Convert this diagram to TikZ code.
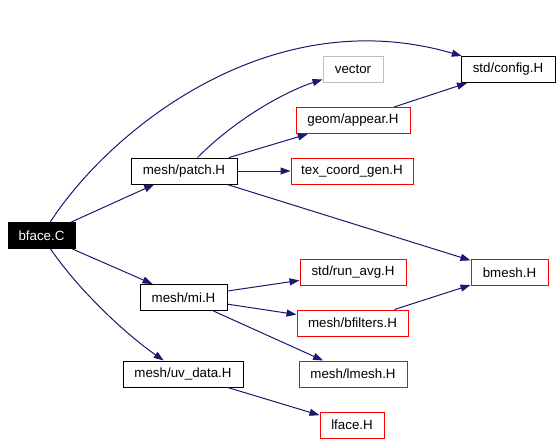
\documentclass[tikz,border=0pt]{standalone}
\usepackage{fontspec}
\setmainfont{Liberation Sans}
\usetikzlibrary{arrows.meta}

\definecolor{edgeblue}{HTML}{191970}

\begin{document}
\begin{tikzpicture}[
    x=0.75pt, y=-0.75pt,
    every node/.style={font=\fontsize{10}{12}\selectfont, align=center, inner sep=0pt},
    file/.style={rectangle, draw=black, line width=0.75pt, minimum height=19.5pt},
    missing/.style={file, draw=red},
    external/.style={file, draw=black!25},
    root/.style={file, fill=black, text=white},
    arrow/.style={-{Triangle[length=7.5pt, width=5.25pt]}, line width=0.75pt, edgeblue}
]
    \useasboundingbox (0,0) rectangle (560,443);

    % Source file
    \node[root, minimum width=50.25pt] (bface) at (41.5,235.5) {bface.C};

    % First level includes
    \node[file, minimum width=79.5pt] (patch) at (184,171) {mesh/patch.H};
    \node[file, minimum width=65.25pt] (mi) at (183.5,297.5) {mesh/mi.H};
    \node[file, minimum width=90pt] (uvdata) at (183,374) {mesh/uv\_data.H};

    % Second level includes
    \node[external, minimum width=45pt] (vector) at (353,69.5) {vector};
    \node[missing, minimum width=85.5pt] (appear) at (353,120.5) {geom/appear.H};
    \node[missing, minimum width=91.5pt] (texgen) at (352,171) {tex\_coord\_gen.H};
    \node[missing, minimum width=79.5pt] (runavg) at (353,272.5) {std/run\_avg.H};
    \node[missing, minimum width=83.25pt] (bfilters) at (352.5,323) {mesh/bfilters.H};
    \node[missing, minimum width=81pt] (lmesh) at (353,374) {mesh/lmesh.H};
    \node[missing, minimum width=48pt] (lface) at (352,425) {lface.H};

    % Right column
    \node[file, minimum width=70.5pt] (config) at (508,69.5) {std/config.H};
    \node[missing, minimum width=57.75pt] (bmesh) at (509.5,272.5) {bmesh.H};

    % Edges from bface.C
    \draw[arrow] (bface) .. controls (110,130) and (270,0) .. (config);
    \draw[arrow] (bface) -- (patch);
    \draw[arrow] (bface) -- (mi);
    \draw[arrow] (bface) .. controls (75,285) and (120,330) .. (uvdata);

    % Edges from mesh/patch.H
    \draw[arrow] (patch) .. controls (240,115) and (290,90) .. (vector);
    \draw[arrow] (patch) -- (appear);
    \draw[arrow] (patch) -- (texgen);
    \draw[arrow] (patch) -- (bmesh);
    \draw[arrow] (appear) -- (config);

    % Edges from mesh/mi.H
    \draw[arrow] (mi) -- (runavg);
    \draw[arrow] (mi) -- (bfilters);
    \draw[arrow] (mi) -- (lmesh);
    \draw[arrow] (bfilters) -- (bmesh);

    % Edges from mesh/uv_data.H
    \draw[arrow] (uvdata) -- (lface);

\end{tikzpicture}
\end{document}
